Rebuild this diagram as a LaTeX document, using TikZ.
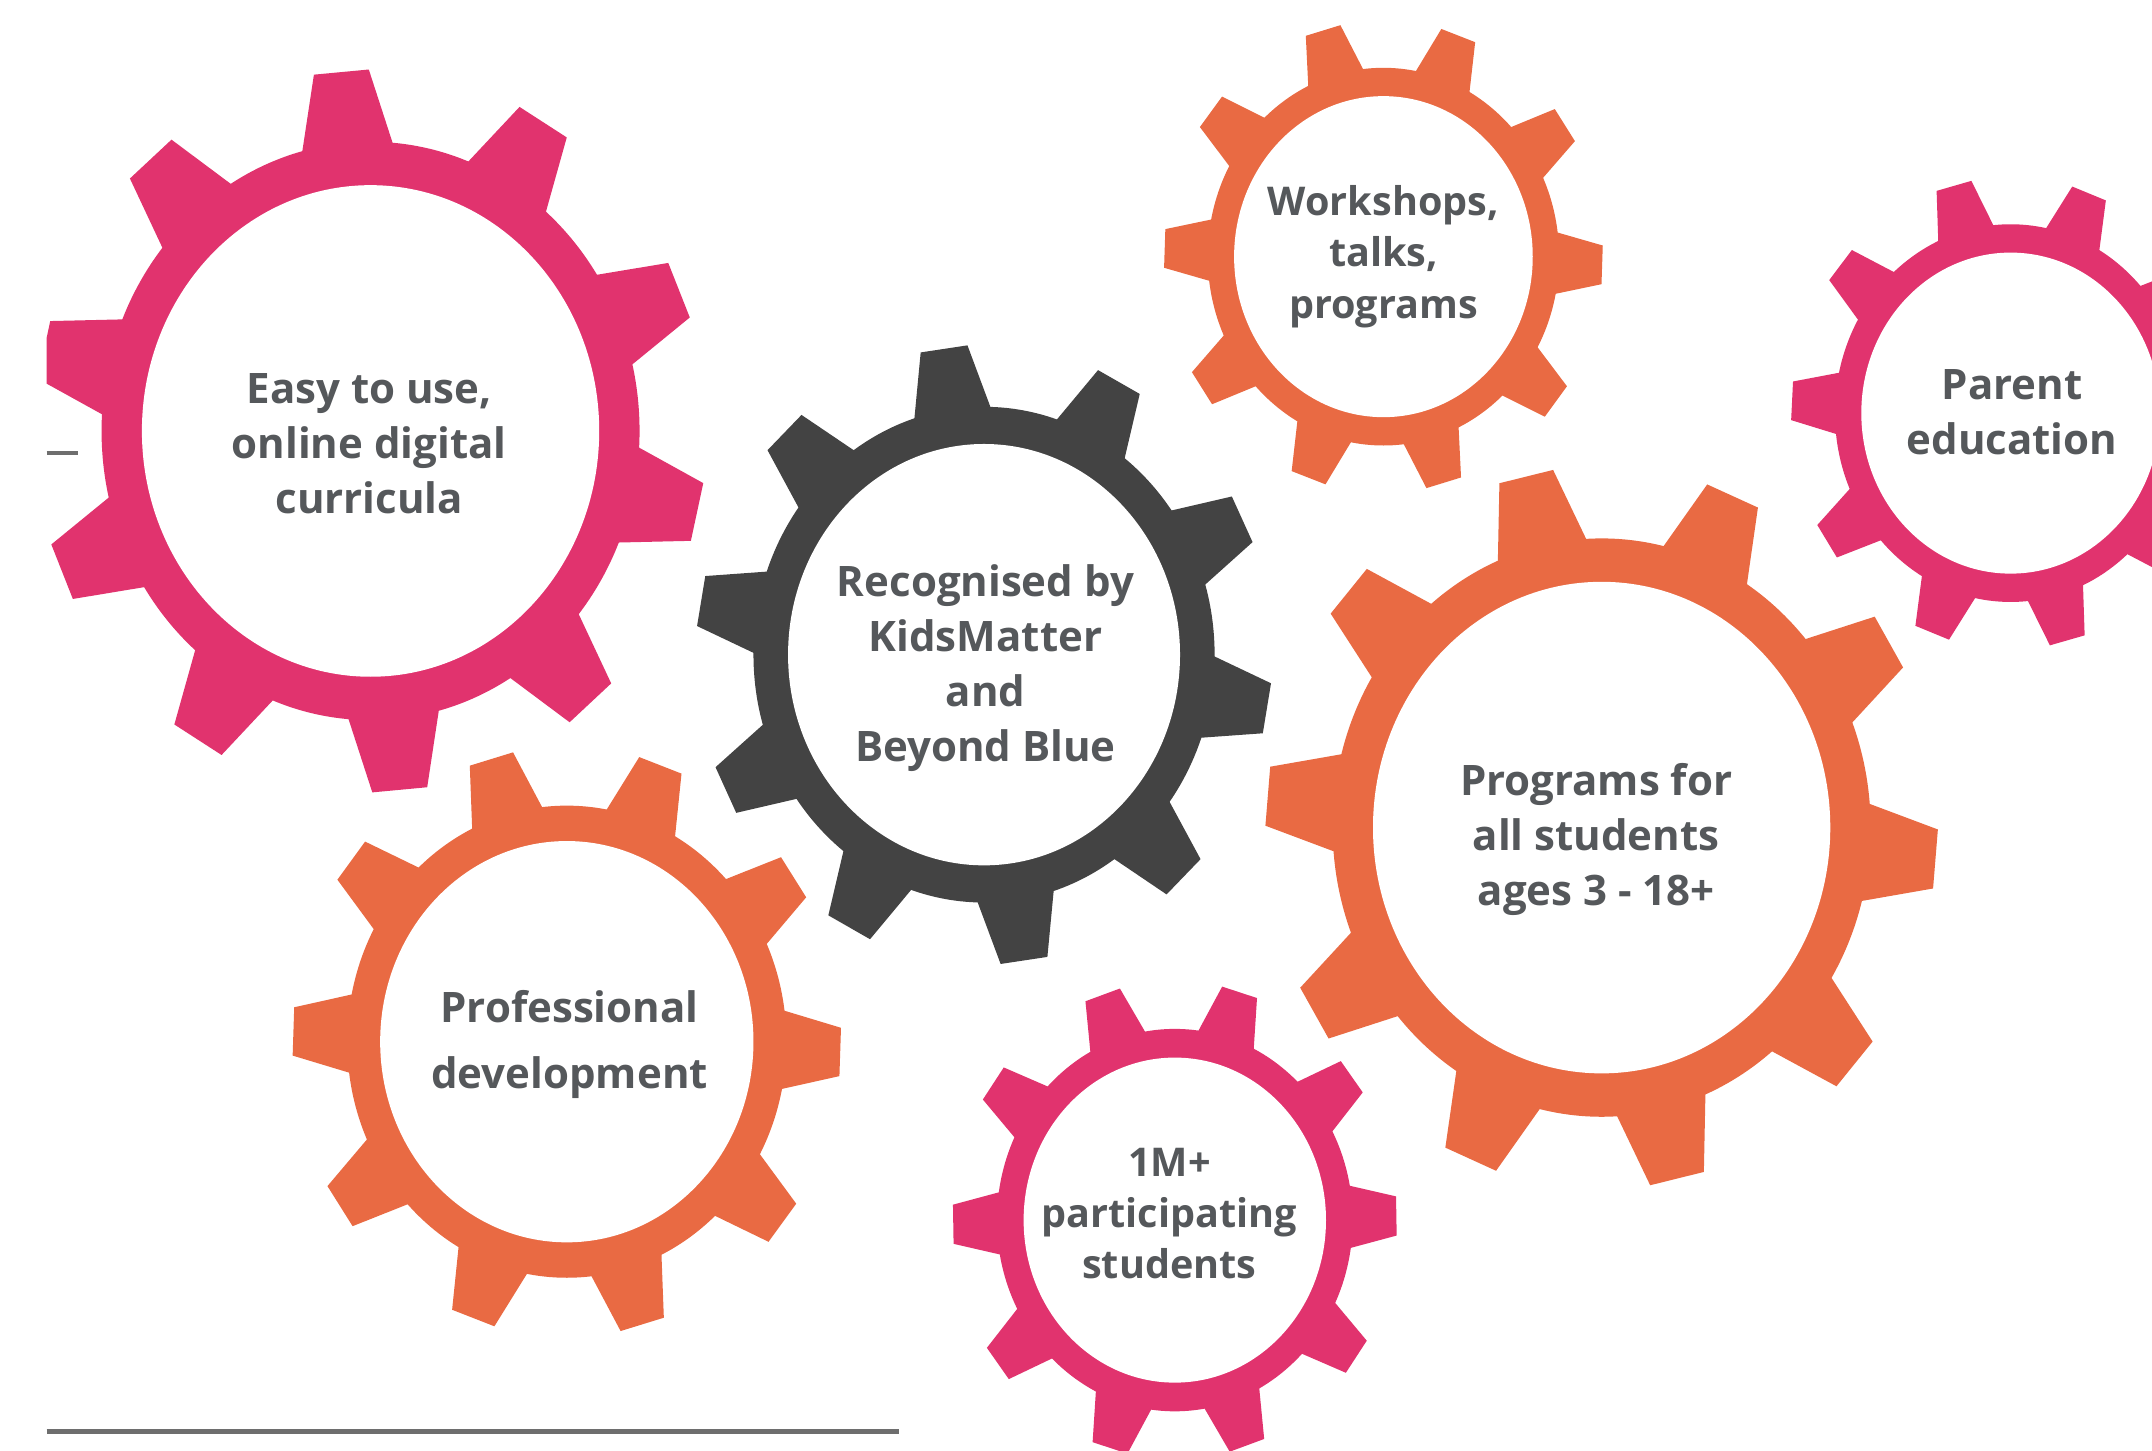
\documentclass[tikz,border=0pt]{standalone}
\usepackage{fontspec}
\setmainfont{Open Sans}
\definecolor{cogpink}{HTML}{E1336E}
\definecolor{cogorange}{HTML}{E96A43}
\definecolor{coggray}{HTML}{434343}
\definecolor{txtgray}{HTML}{55585B}
\definecolor{rulegray}{HTML}{6E6E6E}

% \cog{cx}{cy}{tip radius}{tooth offset}{colour}
% ten trapezoidal teeth around a ring with a white hole;
% the artwork is slightly taller than wide, hence the yscale
\newcommand{\cog}[5]{%
  \begin{scope}[shift={(#1,#2)}, yscale=1.075]
    \pgfmathsetmacro\rroot{0.80*#3}%
    \pgfmathsetmacro\rhole{0.68*#3}%
    \pgfmathsetmacro\rb{\rroot-6}%
    \fill[#5] (0,0) circle[radius=\rroot];
    \foreach \k in {0,...,9}{%
      \pgfmathsetmacro\ta{#4+36*\k}%
      \pgfmathsetmacro\bl{\ta-10.5}%
      \pgfmathsetmacro\br{\ta+10.5}%
      \pgfmathsetmacro\tl{\ta-4.7}%
      \pgfmathsetmacro\tr{\ta+4.7}%
      \fill[#5] (\bl:\rb) -- (\tl:#3) -- (\tr:#3) -- (\br:\rb) -- cycle;
    }
    \fill[white] (0,0) circle[radius=\rhole];
  \end{scope}%
}

\begin{document}
\begin{tikzpicture}[x=0.01cm, y=-0.01cm,
  cogtext/.style={text=txtgray, align=center, inner sep=0pt,
    font=\bfseries\fontsize{8.7}{11.4}\selectfont},
  smalltext/.style={cogtext, font=\bfseries\fontsize{8.2}{10.6}\selectfont},
  widetext/.style={cogtext, font=\bfseries\fontsize{8.7}{13.6}\selectfont}]
\useasboundingbox (0,0) rectangle (1568,1057);
\fill[white] (0,0) rectangle (1568,1057);
\begin{scope}
\clip (34,0) rectangle (1568,1057);

% gears
\cog{270}{314}{245}{13}{cogpink}
\cog{717}{477}{210}{10}{coggray}
\cog{1008}{187}{160}{2}{cogorange}
\cog{1465}{301}{160}{3}{cogpink}
\cog{1167}{603}{245}{5}{cogorange}
\cog{413}{759}{200}{2}{cogorange}
\cog{856}{889}{162}{35}{cogpink}

% captions
\node[cogtext]   (easy)     at (269,323) {Easy to use,\\online digital\\curricula};
\node[cogtext]   (recog)    at (718,487) {Recognised by\\KidsMatter\\and\\Beyond Blue};
\node[smalltext] (workshop) at (1008,187) {Workshops,\\talks,\\programs};
\node[cogtext]   (parent)   at (1466,300) {Parent\\education};
\node[cogtext]   (programs) at (1163,612) {Programs for\\all students\\ages 3 - 18+};
\node[widetext]  (prof)     at (415,761) {Professional\\development};
\node[smalltext] (million)  at (852,884) {1M+\\participating\\students};

% rules
\coordinate (dashA) at (34,330);
\coordinate (dashB) at (57,330);
\draw[rulegray, line width=0.7pt] (dashA) -- (dashB);
\coordinate (ruleA) at (34,1043);
\coordinate (ruleB) at (655,1043);
\draw[rulegray, line width=0.9pt] (ruleA) -- (ruleB);
\end{scope}
\end{tikzpicture}
\end{document}
